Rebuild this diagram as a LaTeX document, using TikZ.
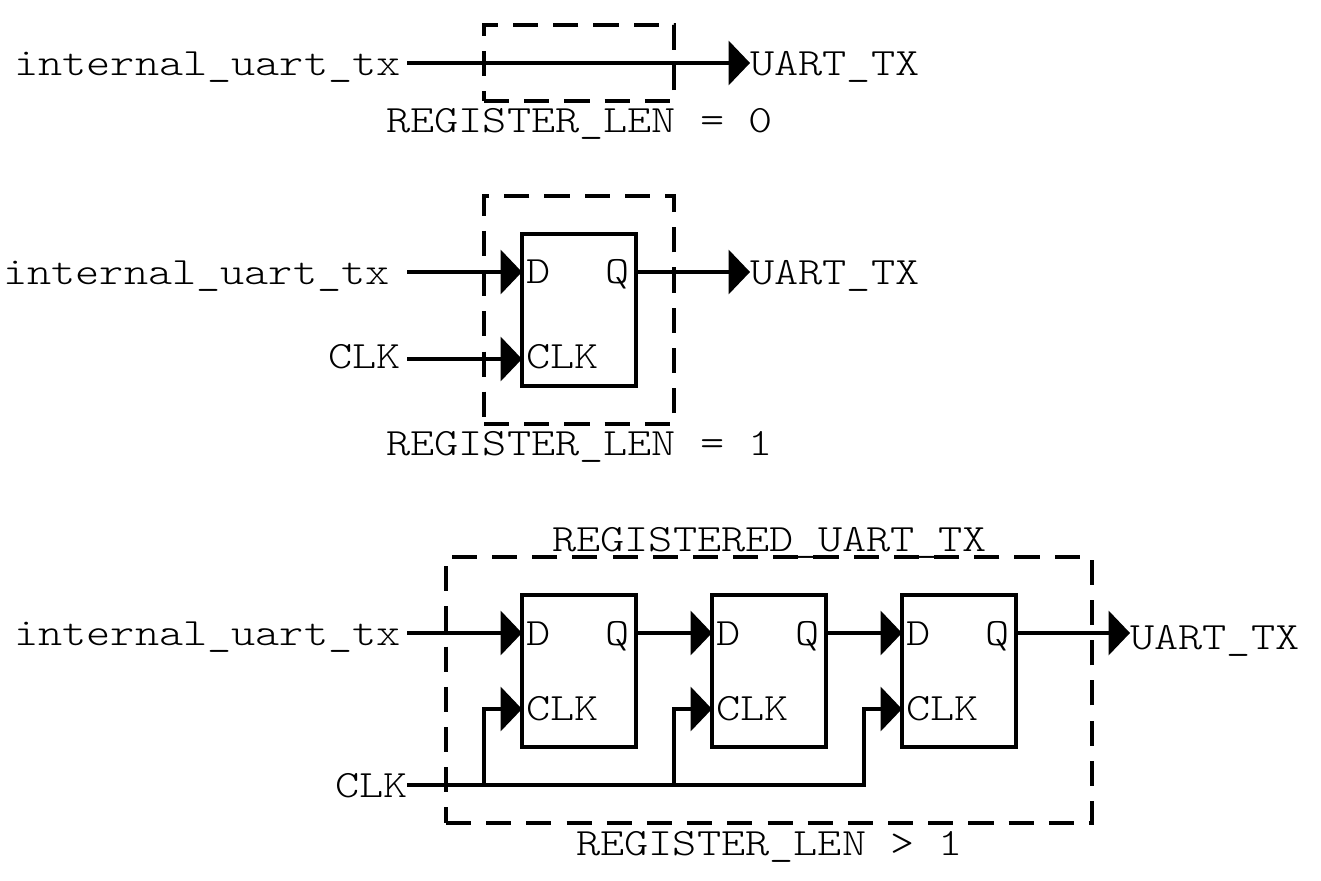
\documentclass[tikz,border=0pt]{standalone}
\usepackage{fontspec}
\usetikzlibrary{calc,arrows.meta}
\newfontfamily\cour[FakeStretch=1.19]{Latin Modern Mono Light}
\tikzset{
  x=0.75pt,y=-0.75pt,
  lbl/.style={inner sep=0pt,font=\cour\fontsize{29}{29}\selectfont,anchor=base west},
  wire/.style={line width=2.3pt,line cap=butt},
  awire/.style={wire,-{Triangle[length=16pt,width=33pt]}},
  dbox/.style={line width=2.3pt,dash pattern=on 18.84pt off 11.3pt},
  ff/.style={draw,line width=2.3pt,inner sep=0pt,outer sep=0pt,anchor=north west,minimum width=85.5pt,minimum height=114pt},
}
\begin{document}
\begin{tikzpicture}
\useasboundingbox (0,0) rectangle (1321,881);
% top
\node[lbl] (a1) at (14,75.5) {internal\_uart\_tx};
\node[lbl] (a2) at (750,75.5) {UART\_TX};
\draw[dbox] (484,101) -- (674,101) -- (674,25) -- (484,25) -- cycle;
\coordinate (a3) at (407,63);
\coordinate (a4) at (750,63);
\draw[awire] (a3) -- (a4);
\node[lbl] (a5) at (386,132.5) {REGISTER\_LEN = 0};
% middle
\node[lbl] (b1) at (3,284.5) {internal\_uart\_tx};
\node[lbl] (b2) at (750,284.5) {UART\_TX};
\node[lbl] (b3) at (328,368.5) {CLK};
\draw[dbox] (484,424) -- (674,424) -- (674,196) -- (484,196) -- cycle;
\node[ff] (f0) at (522,234) {};
\node[lbl] (f0d) at (526,283.5) {D};
\node[lbl] (f0q) at (605,283.5) {Q};
\node[lbl] (f0c) at (526,368.5) {CLK};
\coordinate (b4) at (407,272);
\coordinate (b5) at (f0.west |- b4);
\coordinate (b6) at (f0.east |- b4);
\coordinate (b7) at (750,272);
\coordinate (b8) at (407,359);
\coordinate (b9) at (f0.west |- b8);
\draw[awire] (b4) -- (b5);
\draw[awire] (b6) -- (b7);
\draw[awire] (b8) -- (b9);
\node[lbl] (b10) at (386,455.5) {REGISTER\_LEN = 1};
% bottom
\node[lbl] (c0) at (552,551.5) {REGISTERED\_UART\_TX};
\node[lbl] (c1) at (14,645.5) {internal\_uart\_tx};
\node[lbl] (c2) at (1130,649.5) {UART\_TX};
\node[lbl] (c3) at (335,797.5) {CLK};
\draw[dbox] (446,823) -- (1092,823) -- (1092,557) -- (446,557) -- cycle;
\node[ff] (f1) at (522,595) {};
\node[ff] (f2) at (712,595) {};
\node[ff] (f3) at (902,595) {};
\foreach \n/\xx in {1/522,2/712,3/902}{
  \node[lbl] (d\n) at (\xx+4,645) {D};
  \node[lbl] (q\n) at (\xx+83,645) {Q};
  \node[lbl] (k\n) at (\xx+4,720.5) {CLK};
}
\coordinate (i0) at (407,633);
\coordinate (o0) at (1130,633);
\coordinate (k0) at (407,785);
\coordinate (r1) at (484,785);
\coordinate (r2) at (674,785);
\coordinate (r3) at (864,785);
\draw[awire] (i0) -- (f1.west |- i0);
\draw[awire] (f1.east |- i0) -- (f2.west |- i0);
\draw[awire] (f2.east |- i0) -- (f3.west |- i0);
\draw[awire] (f3.east |- i0) -- (o0);
\draw[wire] (k0) -- ([xshift=1.15pt]r3);
\foreach \n in {1,2,3}{
  \coordinate (t\n) at (r\n |- 0,709);
  \draw[wire] (r\n) -- (t\n);
  \draw[awire] ([xshift=-1.15pt]t\n) -- (f\n.west |- t\n);
}
\node[lbl] (c4) at (576,855.5) {REGISTER\_LEN > 1};
\end{tikzpicture}
\end{document}
